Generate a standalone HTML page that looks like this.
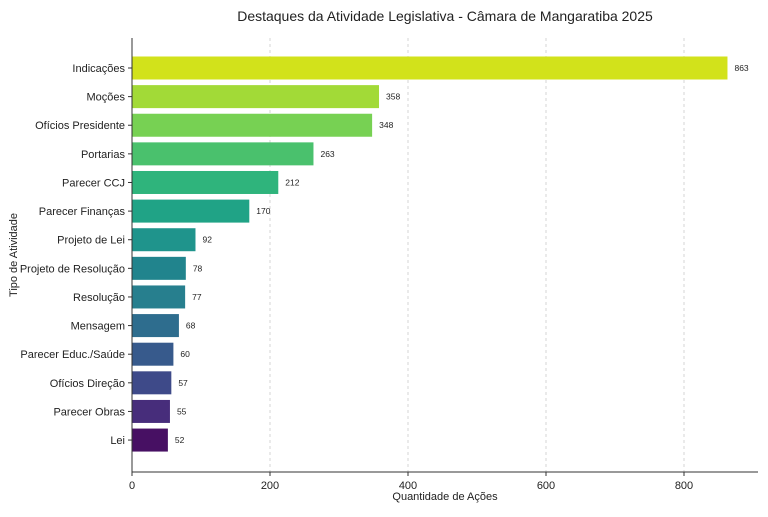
<!DOCTYPE html>
<html><head><meta charset="utf-8"><style>
body{margin:0;background:#fff;font-family:"Liberation Sans",sans-serif;}
svg text{font-family:"Liberation Sans",sans-serif;fill:#222;}
</style></head><body>
<svg id="c" width="768" height="512">
<text x="445" y="21" text-anchor="middle" font-size="14">Destaques da Atividade Legislativa - Câmara de Mangaratiba 2025</text>
<text x="445" y="500" text-anchor="middle" font-size="11">Quantidade de Ações</text>
<text transform="translate(17,255) rotate(-90)" text-anchor="middle" font-size="11">Tipo de Atividade</text>
<g id="grid"></g><g id="bars"></g><g id="ax"></g>
</svg>
<script>
const categories=["Indicações","Moções","Ofícios Presidente","Portarias","Parecer CCJ","Parecer Finanças","Projeto de Lei","Projeto de Resolução","Resolução","Mensagem","Parecer Educ./Saúde","Ofícios Direção","Parecer Obras","Lei"];
const values=[863,358,348,263,212,170,92,78,77,68,60,57,55,52];
const colors=["#d2e21b","#a2da37","#77d153","#4ac16d","#2fb47c","#20a386","#1f948c","#21848d","#277f8e","#2e6d8e","#375a8c","#3e4a89","#472d7b","#471063"];
const xTicks=[0,200,400,600,800];
const NS="http://www.w3.org/2000/svg";
const x0=132,xScale=0.69,top0=68,step=28.62,bh=23;
const xs=v=>x0+v*xScale, ys=i=>top0+i*step;
function mk(t,a,p){const e=document.createElementNS(NS,t);for(const k in a)e.setAttribute(k,a[k]);document.getElementById(p).appendChild(e);return e;}
xTicks.forEach(t=>{
 if(t>0){const g=mk("line",{x1:xs(t),x2:xs(t),y1:38,y2:472,stroke:"#ccc","stroke-dasharray":"3,3","stroke-width":0.8},"grid");
 
 }
 const tk=mk("line",{x1:xs(t),x2:xs(t),y1:472,y2:476,stroke:"#333"},"ax");
 
 
 const l=mk("text",{x:xs(t),y:489,"text-anchor":"middle","font-size":11},"ax");l.textContent=t;
 
 
});
categories.forEach((c,i)=>{
 const y=ys(i);
 const r=mk("rect",{x:x0,y:y-bh/2,width:values[i]*xScale,height:bh,fill:colors[i]},"bars");
 
 
 const v=mk("text",{x:xs(values[i])+7,y:y+3,"font-size":8.5},"bars");v.textContent=values[i];
 
 
 const tk=mk("line",{x1:128,x2:132,y1:y,y2:y,stroke:"#333"},"ax");
 
 
 const l=mk("text",{x:125,y:y+4,"text-anchor":"end","font-size":11},"ax");l.textContent=c;
 
 
});
const s1=mk("line",{x1:132,x2:132,y1:38,y2:472,stroke:"#333"},"ax");


const s2=mk("line",{x1:132,x2:758,y1:472,y2:472,stroke:"#333"},"ax");


</script>
</body></html>
